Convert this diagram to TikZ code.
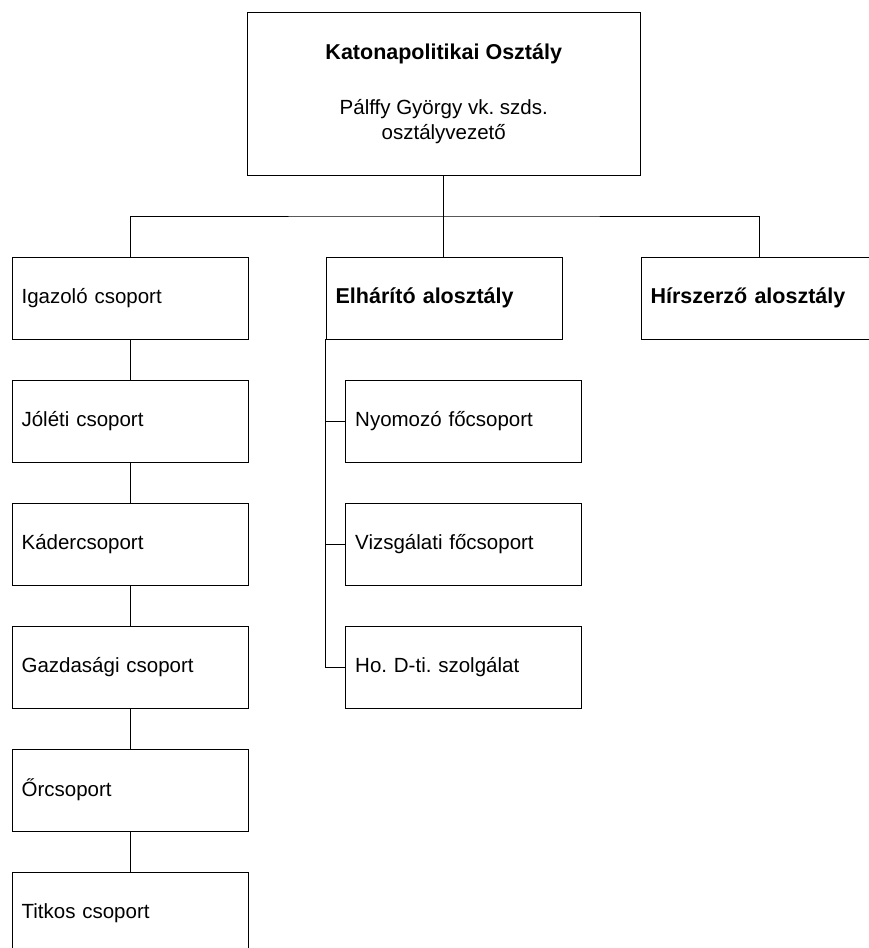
\documentclass[tikz,border=0pt]{standalone}
\usepackage{fontspec}
\setmainfont{Liberation Sans}
\frenchspacing
\begin{document}
\begin{tikzpicture}[x=1pt,y=-1pt,
  every node/.style={font=\fontsize{20.5}{25.5}\selectfont},
  unit/.style={draw=black, line width=0.8pt, rectangle, anchor=north west,
    inner xsep=9.5pt, inner ysep=0pt, minimum height=81.5pt, align=left},
  wide/.style={unit, text width=217pt},
  head/.style={font=\fontsize{21.5}{25.5}\selectfont\bfseries},
  conn/.style={draw=black, line width=0.8pt}]
\useasboundingbox (0,0) rectangle (868,948);
% top box
\node[draw=black, line width=0.8pt, rectangle, anchor=north west, minimum width=393.3pt,
  minimum height=163pt, align=center, inner sep=0pt] (top) at (246.7,12)
  {{\fontsize{21.5}{25.5}\selectfont\bfseries Katonapolitikai Osztály}\\[29pt]Pálffy György vk. szds.\\osztályvezető};
% left column
\node[wide] (igaz) at (11.7,257) {Igazoló csoport};
\node[wide] (jol)  at (11.7,380) {Jóléti csoport};
\node[wide] (kad)  at (11.7,503) {Kádercsoport};
\node[wide] (gazd) at (11.7,626) {Gazdasági csoport};
\node[wide] (or)   at (11.7,749) {Őrcsoport};
\node[wide] (tit)  at (11.7,872) {Titkos csoport};
% middle column
\node[wide, head] (elh) at (325.7,257) {Elhárító alosztály};
\node[wide] (nyo) at (345.3,380) {Nyomozó főcsoport};
\node[wide] (viz) at (345.3,503) {Vizsgálati főcsoport};
\node[wide] (ho)  at (345.3,626) {Ho. D-ti. szolgálat};
% right
\node[wide, head] (hir) at (640.7,257) {Hírszerző alosztály};
% connectors
\coordinate (bus) at (443.3,216);
\draw[conn] (top.south) -- (top.south |- elh.north);
\draw[conn] (igaz.north) |- (bus) -| (hir.north);
\draw[conn] (igaz.south) -- (jol.north);
\draw[conn] (jol.south) -- (kad.north);
\draw[conn] (kad.south) -- (gazd.north);
\draw[conn] (gazd.south) -- (or.north);
\draw[conn] (or.south) -- (tit.north);
\draw[conn] (elh.south west) |- (ho.west);
\draw[conn] (elh.south west |- nyo.west) -- (nyo.west);
\draw[conn] (elh.south west |- viz.west) -- (viz.west);
\end{tikzpicture}
\end{document}
